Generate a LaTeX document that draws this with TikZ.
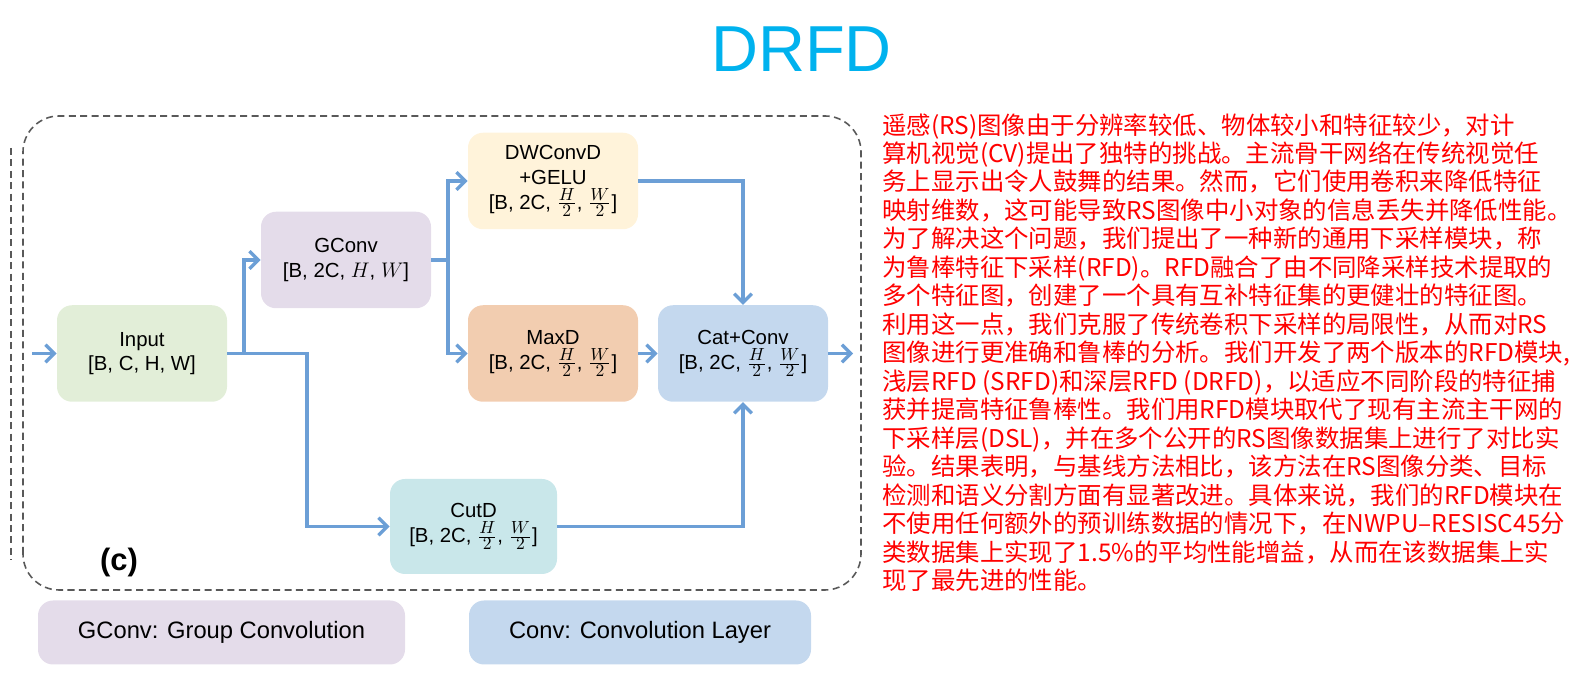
\documentclass[tikz,border=0pt]{standalone}
\usepackage{amsmath}
\usepackage{fontspec}
\setmainfont{Liberation Sans}
\newfontfamily\cjk{Noto Sans CJK SC}
\usetikzlibrary{arrows.meta,positioning,calc}
\DeclareMathSizes{11.6}{11.6}{10.2}{8}
\definecolor{flow}{HTML}{6C9FD6}
\definecolor{titleblue}{HTML}{00B2EE}
\definecolor{inpfill}{HTML}{E2EED8}
\definecolor{gconvfill}{HTML}{E4DCEA}
\definecolor{dwfill}{HTML}{FFF3DA}
\definecolor{maxfill}{HTML}{F2CDB0}
\definecolor{catfill}{HTML}{C4D8EE}
\definecolor{cutfill}{HTML}{C9E7EA}

\begin{document}
\begin{tikzpicture}[
    blk/.style={rounded corners=0.3cm, minimum width=3.4cm, minimum height=1.93cm, align=center, font=\fontsize{11.6}{14}\selectfont},
    key/.style={rounded corners=0.3cm, minimum height=1.28cm, font=\fontsize{13.5}{16}\selectfont},
    arr/.style={-{Straight Barb[length=5pt,width=10pt]}, line width=1.9pt, draw=flow},
    ln/.style={line width=1.9pt, draw=flow},
    frame/.style={dash pattern=on 4pt off 2.5pt, line width=0.9pt, draw=black!65}
]
\useasboundingbox (0,0) rectangle (31.6,13.8);

\node[font=\fontsize{37}{40}\selectfont, text=titleblue] (title) at (16.03,12.81) {DRFD};

% module (c)
\draw[frame, rounded corners=0.72cm] (0.46,2.0) rectangle (17.22,11.48);
\draw[frame] (0.22,10.84) -- (0.22,2.6);

\node[blk, fill=inpfill] (inp) at (2.84,6.73) {Input\\{[B, C, H, W]}};
\node[blk, fill=gconvfill] (gconv) at (6.92,8.6) {GConv\\{[B, 2C, $H$, $W$]}};
\node[blk, fill=dwfill] (dw) at (11.06,10.18) {DWConvD\\+GELU\\{[B, 2C, $\frac{H}{2}$, $\frac{W}{2}$]}};
\node[blk, fill=maxfill] (maxd) at (11.06,6.73) {MaxD\\{[B, 2C, $\frac{H}{2}$, $\frac{W}{2}$]}};
\node[blk, fill=catfill] (cat) at (14.86,6.73) {Cat+Conv\\{[B, 2C, $\frac{H}{2}$, $\frac{W}{2}$]}};
\node[blk, fill=cutfill, minimum width=3.34cm, minimum height=1.9cm] (cutd) at (9.47,3.27) {CutD\\{[B, 2C, $\frac{H}{2}$, $\frac{W}{2}$]}};
\node[font=\fontsize{17.6}{20}\selectfont\bfseries] (tag) at (2.38,2.54) {(c)};

\coordinate (in0) at (0.64,6.73);
\coordinate (out0) at (17.06,6.73);
\coordinate (j1) at (4.88,6.73);
\coordinate (j2) at (8.96,8.6);
\coordinate (j3) at (6.14,6.73);

\draw[arr] (in0) -- (inp);
\draw[arr] (j1) |- (gconv);
\draw[arr] (inp.east) -- (j3) |- (cutd);
\draw[ln] (gconv) -- (j2);
\draw[arr] (j2) |- (dw);
\draw[arr] (j2) |- (maxd);
\draw[arr] (dw) -| (cat);
\draw[arr] (maxd) -- (cat);
\draw[arr] (cutd) -| (cat);
\draw[arr] (cat) -- (out0);

% legend
\node[key, fill=gconvfill, minimum width=7.34cm] (kg) at (4.43,1.15) {GConv: Group Convolution};
\node[key, fill=catfill, minimum width=6.84cm] (kc) at (12.8,1.15) {Conv: Convolution Layer};

% summary
\node[anchor=north west, inner sep=0pt, align=left, text=red, font=\cjk\fontsize{13.9}{16.2}\selectfont] (desc) at (17.64,11.54) {%
遥感(RS)图像由于分辨率较低、物体较小和特征较少，对计\\
算机视觉(CV)提出了独特的挑战。主流骨干网络在传统视觉任\\
务上显示出令人鼓舞的结果。然而，它们使用卷积来降低特征\\
映射维数，这可能导致RS图像中小对象的信息丢失并降低性能。\\
为了解决这个问题，我们提出了一种新的通用下采样模块，称\\
为鲁棒特征下采样(RFD)。RFD融合了由不同降采样技术提取的\\
多个特征图，创建了一个具有互补特征集的更健壮的特征图。\\
利用这一点，我们克服了传统卷积下采样的局限性，从而对RS\\
图像进行更准确和鲁棒的分析。我们开发了两个版本的RFD模块,\\
浅层RFD (SRFD)和深层RFD (DRFD)，以适应不同阶段的特征捕\\
获并提高特征鲁棒性。我们用RFD模块取代了现有主流主干网的\\
下采样层(DSL)，并在多个公开的RS图像数据集上进行了对比实\\
验。结果表明，与基线方法相比，该方法在RS图像分类、目标\\
检测和语义分割方面有显著改进。具体来说，我们的RFD模块在\\
不使用任何额外的预训练数据的情况下，在NWPU–RESISC45分\\
类数据集上实现了1.5\%的平均性能增益，从而在该数据集上实\\
现了最先进的性能。};
\end{tikzpicture}
\end{document}
